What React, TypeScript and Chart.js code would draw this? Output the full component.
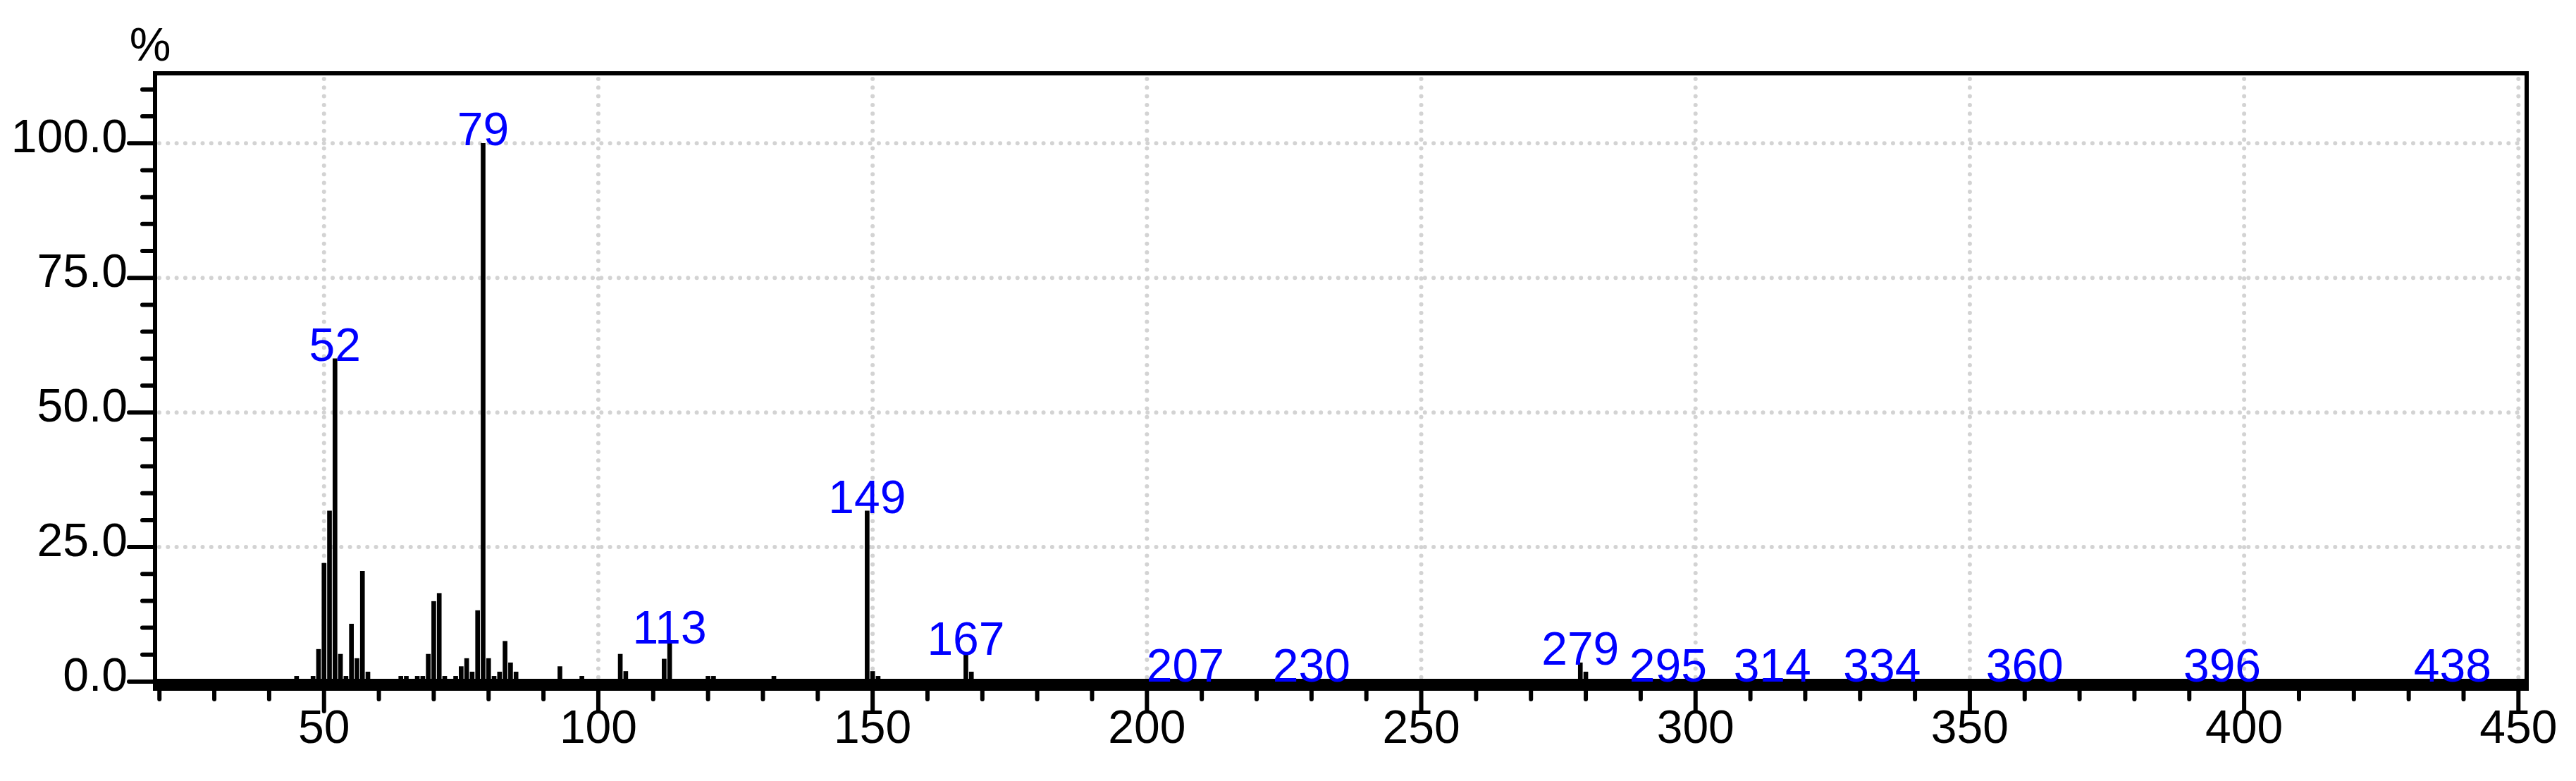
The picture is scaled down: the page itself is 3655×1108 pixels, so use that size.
import React, { useEffect, useRef } from 'react';
import { Chart, registerables } from 'chart.js';

Chart.register(...registerables);

// m/z values of the peaks
const massValues = [
  45, 48, 49, 50, 51, 52, 53, 54, 55, 56, 57, 58, 64, 65, 67, 68, 69, 70, 71, 72,
  74, 75, 76, 77, 78, 79, 80, 81, 82, 83, 84, 85, 93, 97, 104, 105, 112, 113, 120,
  121, 132, 149, 150, 151, 167, 168, 207, 230, 279, 280, 295, 314, 334, 360, 396, 438,
];
// relative intensities (%)
const intensityValues = [
  1.0, 1.0, 6.0, 22.0, 31.7, 60.0, 5.1, 1.0, 10.7, 4.3, 20.5, 1.8, 1.0, 1.0, 1.0, 1.0, 5.1, 14.9, 16.4, 1.0,
  1.0, 2.8, 4.3, 1.8, 13.2, 100.0, 4.3, 1.0, 1.8, 7.5, 3.5, 1.8, 2.8, 1.0, 5.1, 1.9, 4.2, 7.5, 1.0,
  1.0, 1.0, 31.7, 1.9, 1.0, 5.4, 1.8, 0.4, 0.4, 3.5, 1.8, 0.4, 0.4, 0.4, 0.4, 0.4, 0.4,
];
// peaks annotated with their m/z
const labeledPeaks = [52, 79, 113, 149, 167, 207, 230, 279, 295, 314, 334, 360, 396, 438];

const xTickLabels = [50, 100, 150, 200, 250, 300, 350, 400, 450];
const yTickLabels = [0, 25, 50, 75, 100];
const yUnit = '%';

const X_MIN = 19.2;
const X_MAX = 451.5;
const Y_MIN = -1.31;
const Y_MAX = 113;

const FONT = "'Liberation Sans', Arial, sans-serif";
const FONT_SIZE = 66;

const decorPlugin = {
  id: 'decor',
  beforeDatasetsDraw(chart: any) {
    const { ctx, chartArea: a, scales } = chart;
    const x = scales.x;
    const y = scales.y;
    ctx.save();
    ctx.strokeStyle = '#D3D3D3';
    ctx.lineWidth = 6;
    ctx.lineCap = 'round';
    ctx.setLineDash([0, 12.3]);
    ctx.beginPath();
    for (const v of yTickLabels) {
      if (v <= 0) continue;
      const py = y.getPixelForValue(v);
      ctx.moveTo(a.left + 6, py);
      ctx.lineTo(a.right - 4, py);
    }
    for (const v of xTickLabels) {
      const px = x.getPixelForValue(v);
      ctx.moveTo(px, a.top + 8);
      ctx.lineTo(px, a.bottom - 4);
    }
    ctx.stroke();
    ctx.restore();
  },
  afterDatasetsDraw(chart: any) {
    const { ctx, chartArea: a, scales } = chart;
    const x = scales.x;
    const y = scales.y;
    ctx.save();
    // frame
    ctx.strokeStyle = '#000';
    ctx.lineWidth = 6;
    ctx.setLineDash([]);
    ctx.strokeRect(a.left, a.top, a.right - a.left, a.bottom - a.top);
    // thick baseline
    const y0 = y.getPixelForValue(0);
    ctx.fillStyle = '#000';
    ctx.fillRect(a.left, y0 - 4, a.right - a.left, a.bottom - (y0 - 4));
    // tick marks
    ctx.lineCap = 'round';
    ctx.beginPath();
    for (let v = 0; v <= 110; v += 5) {
      const py = y.getPixelForValue(v);
      const len = v % 25 === 0 ? 37 : 18;
      ctx.moveTo(a.left, py);
      ctx.lineTo(a.left - len, py);
    }
    for (let v = 20; v <= 450; v += 10) {
      const px = x.getPixelForValue(v);
      const len = v % 50 === 0 ? 32 : 15;
      ctx.moveTo(px, a.bottom);
      ctx.lineTo(px, a.bottom + len);
    }
    ctx.stroke();
    // peak labels
    ctx.font = `${FONT_SIZE}px ${FONT}`;
    ctx.fillStyle = '#0000FF';
    ctx.textAlign = 'center';
    ctx.textBaseline = 'alphabetic';
    for (const mz of labeledPeaks) {
      const i = massValues.indexOf(mz);
      const val = i >= 0 ? intensityValues[i] : 0;
      ctx.fillText(String(mz), x.getPixelForValue(mz), y.getPixelForValue(val) + 3);
    }
    // unit label
    ctx.fillStyle = '#000';
    ctx.fillText(yUnit, a.left - 7, a.top - 18);
    ctx.restore();
  },
};

export default function App() {
  const canvasRef = useRef<HTMLCanvasElement | null>(null);

  useEffect(() => {
    const canvas = canvasRef.current;
    if (!canvas) return;
    const data = massValues.map((m, i) => ({ x: m, y: intensityValues[i] }));
    const chart = new Chart(canvas, {
      type: 'bar',
      data: {
        datasets: [
          {
            data,
            backgroundColor: '#000',
            borderWidth: 0,
            barThickness: 6,
            grouped: false,
          } as any,
        ],
      },
      options: {
        animation: false,
        responsive: false,
        devicePixelRatio: 1,
        layout: { padding: { left: 0, top: 104, right: 70, bottom: 0 } },
        plugins: {
          legend: { display: false },
          tooltip: { enabled: false },
        },
        scales: {
          x: {
            type: 'linear',
            offset: false,
            min: X_MIN,
            max: X_MAX,
            grid: { display: false, drawTicks: false, offset: false },
            border: { display: false },
            afterBuildTicks: (scale: any) => {
              scale.ticks = xTickLabels.map((v) => ({ value: v }));
            },
            afterFit: (scale: any) => {
              scale.height = 131;
            },
            ticks: {
              autoSkip: false,
              maxRotation: 0,
              padding: 19,
              color: '#000',
              font: { family: FONT, size: FONT_SIZE, lineHeight: 1.2 },
              callback: (v: any) => String(v),
            },
          } as any,
          y: {
            type: 'linear',
            min: Y_MIN,
            max: Y_MAX,
            grid: { display: false, drawTicks: false },
            border: { display: false },
            afterBuildTicks: (scale: any) => {
              scale.ticks = yTickLabels.map((v) => ({ value: v }));
            },
            afterFit: (scale: any) => {
              scale.width = 220;
            },
            ticks: {
              autoSkip: false,
              padding: 39,
              labelOffset: -5,
              color: '#000',
              font: { family: FONT, size: FONT_SIZE, lineHeight: 1.2 },
              callback: (v: any) => Number(v).toFixed(1),
            },
          },
        },
      },
      plugins: [decorPlugin],
    });
    return () => chart.destroy();
  }, []);

  return (
    <div style={{ position: 'absolute', left: 0, top: 0, width: 3655, height: 1108, background: '#fff' }}>
      <canvas ref={canvasRef} width={3655} height={1108} style={{ display: 'block' }} />
    </div>
  );
}
